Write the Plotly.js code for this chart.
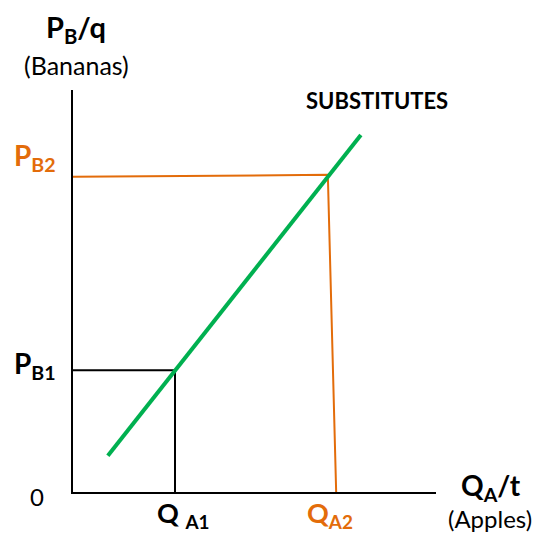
<!DOCTYPE html>
<html>
<head>
<meta charset="utf-8">
<script src="https://cdn.plot.ly/plotly-3.0.1.min.js"></script>
<style>html,body{margin:0;padding:0;background:#fff;}#chart{width:537px;height:533px;}</style>
</head>
<body>
<div id="chart"></div>
<script>
// Data (arbitrary units, axes 0..10)
const supplyX = [0.96, 7.93];
const supplyY = [0.90, 8.88];
const QA1 = 2.81;
const PB1 = 3.03;
const QA2_top = 7.02;
const QA2_bottom = 7.25;
const PB2_left = 7.84;
const PB2_right = 7.89;

const blackX = [0, QA1, QA1];
const blackY = [PB1, PB1, 0];
const orangeX = [0, QA2_top, QA2_bottom];
const orangeY = [PB2_left, PB2_right, 0];

const ORANGE = '#E36C0A';
const GREEN = '#00B050';
const FONT = 'Lato, "Open Sans", sans-serif';

const traces = [
  {x: blackX, y: blackY, mode: 'lines', line: {color: '#000', width: 2}, hoverinfo: 'skip'},
  {x: orangeX, y: orangeY, mode: 'lines', line: {color: ORANGE, width: 2}, hoverinfo: 'skip'},
  {x: supplyX, y: supplyY, mode: 'lines', line: {color: GREEN, width: 4}, hoverinfo: 'skip'}
];

function ann(text, x, y, size, color, bold) {
  return {text: bold ? '<b>' + text + '</b>' : text, x: x, y: y, xref: 'paper', yref: 'paper',
    showarrow: false, xanchor: 'center', yanchor: 'middle', borderpad: 0,
    font: {family: FONT, size: size, color: color}};
}

const layout = {
  width: 537, height: 533,
  margin: {l: 73, r: 101, t: 90, b: 41, pad: 0},
  paper_bgcolor: '#fff', plot_bgcolor: '#fff',
  showlegend: false,
  xaxis: {range: [0, 10], showline: true, linecolor: '#000', linewidth: 2, showgrid: false,
    zeroline: false, showticklabels: false, ticks: '', fixedrange: true},
  yaxis: {range: [0, 10], showline: true, linecolor: '#000', linewidth: 2, showgrid: false,
    zeroline: false, showticklabels: false, ticks: '', fixedrange: true},
  annotations: [
    ann('P<sub>B</sub>/q', 0.008, 1.154, 29, '#000', true),
    ann('(Bananas)', 0.01, 1.062, 25, '#000', false),
    ann('P<sub>B2</sub>', -0.105, 0.833, 28, ORANGE, true),
    ann('P<sub>B1</sub>', -0.105, 0.316, 28, '#000', true),
    ann('0', -0.099, -0.012, 24, '#000', false),
    ann('Q <sub>A1</sub>', 0.303, -0.056, 27, '#000', true),
    ann('Q<sub>A2</sub>', 0.708, -0.056, 27, ORANGE, true),
    ann('Q<sub>A</sub>/t', 1.151, 0.012, 28, '#000', true),
    ann('(Apples)', 1.149, -0.066, 24, '#000', false),
    ann('SUBSTITUTES', 0.837, 0.973, 22, '#000', true)
  ]
};

Plotly.newPlot('chart', traces, layout, {staticPlot: true, displayModeBar: false});
</script>
</body>
</html>
